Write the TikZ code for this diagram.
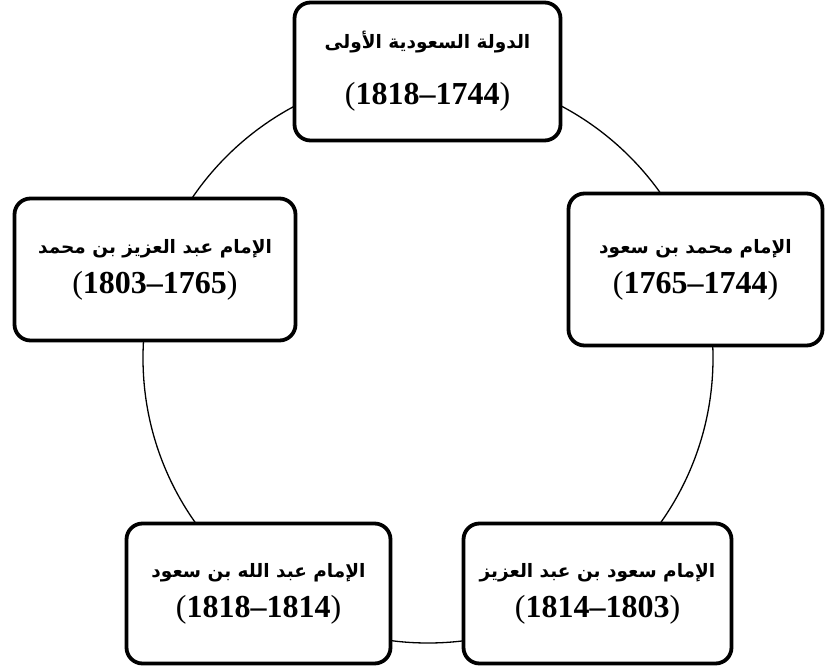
\documentclass[tikz,border=0pt]{standalone}
\usepackage{fontspec}
\setmainfont{Liberation Serif}
\newfontfamily\arabicfont[Script=Arabic]{DejaVu Sans}
\TeXXeTstate=1
\newcommand{\artxt}[1]{{\arabicfont\bfseries\fontsize{18.5}{40}\selectfont\beginR #1\endR}}
\newcommand{\yrs}[1]{(\textbf{#1})}
\tikzset{
	hop/.style={draw, line width=3.8pt, rounded corners=16pt, fill=white, align=center,
		inner sep=0pt, font=\fontsize{32}{40}\selectfont},
	vong/.style={line width=1.3pt}
}
\begin{document}
\begin{tikzpicture}[x=1pt, y=-1pt, line join=round, line cap=round]
	\useasboundingbox (0,0) rectangle (825,669);
	%% Khai bao diem
	\path 
	(428,358) coordinate (O)
	(427.5,71.5) coordinate (T)
	(695.5,269.5) coordinate (P)
	(155,269.5) coordinate (Q)
	(258.5,593.5) coordinate (R)
	(597.5,593.5) coordinate (S)
	;
	%% duong tron
	\draw[vong] (O) circle (285pt);
	%% cac hop
	\node[hop, minimum width=266pt, minimum height=138pt] (dola) at (T)
	{\artxt{الدولة السعودية الأولى}\\[16pt]\yrs{1818–1744}};
	\node[hop, minimum width=254pt, minimum height=152pt] (mhd) at (P)
	{\artxt{الإمام محمد بن سعود}\\\yrs{1765–1744}};
	\node[hop, minimum width=281pt, minimum height=142pt] (azz) at (Q)
	{\artxt{الإمام عبد العزيز بن محمد}\\\yrs{1803–1765}};
	\node[hop, minimum width=264pt, minimum height=140pt] (abd) at (R)
	{\artxt{الإمام عبد الله بن سعود}\\\yrs{1818–1814}};
	\node[hop, minimum width=268pt, minimum height=140pt] (sud) at (S)
	{\artxt{الإمام سعود بن عبد العزيز}\\\yrs{1814–1803}};
\end{tikzpicture}
\end{document}
